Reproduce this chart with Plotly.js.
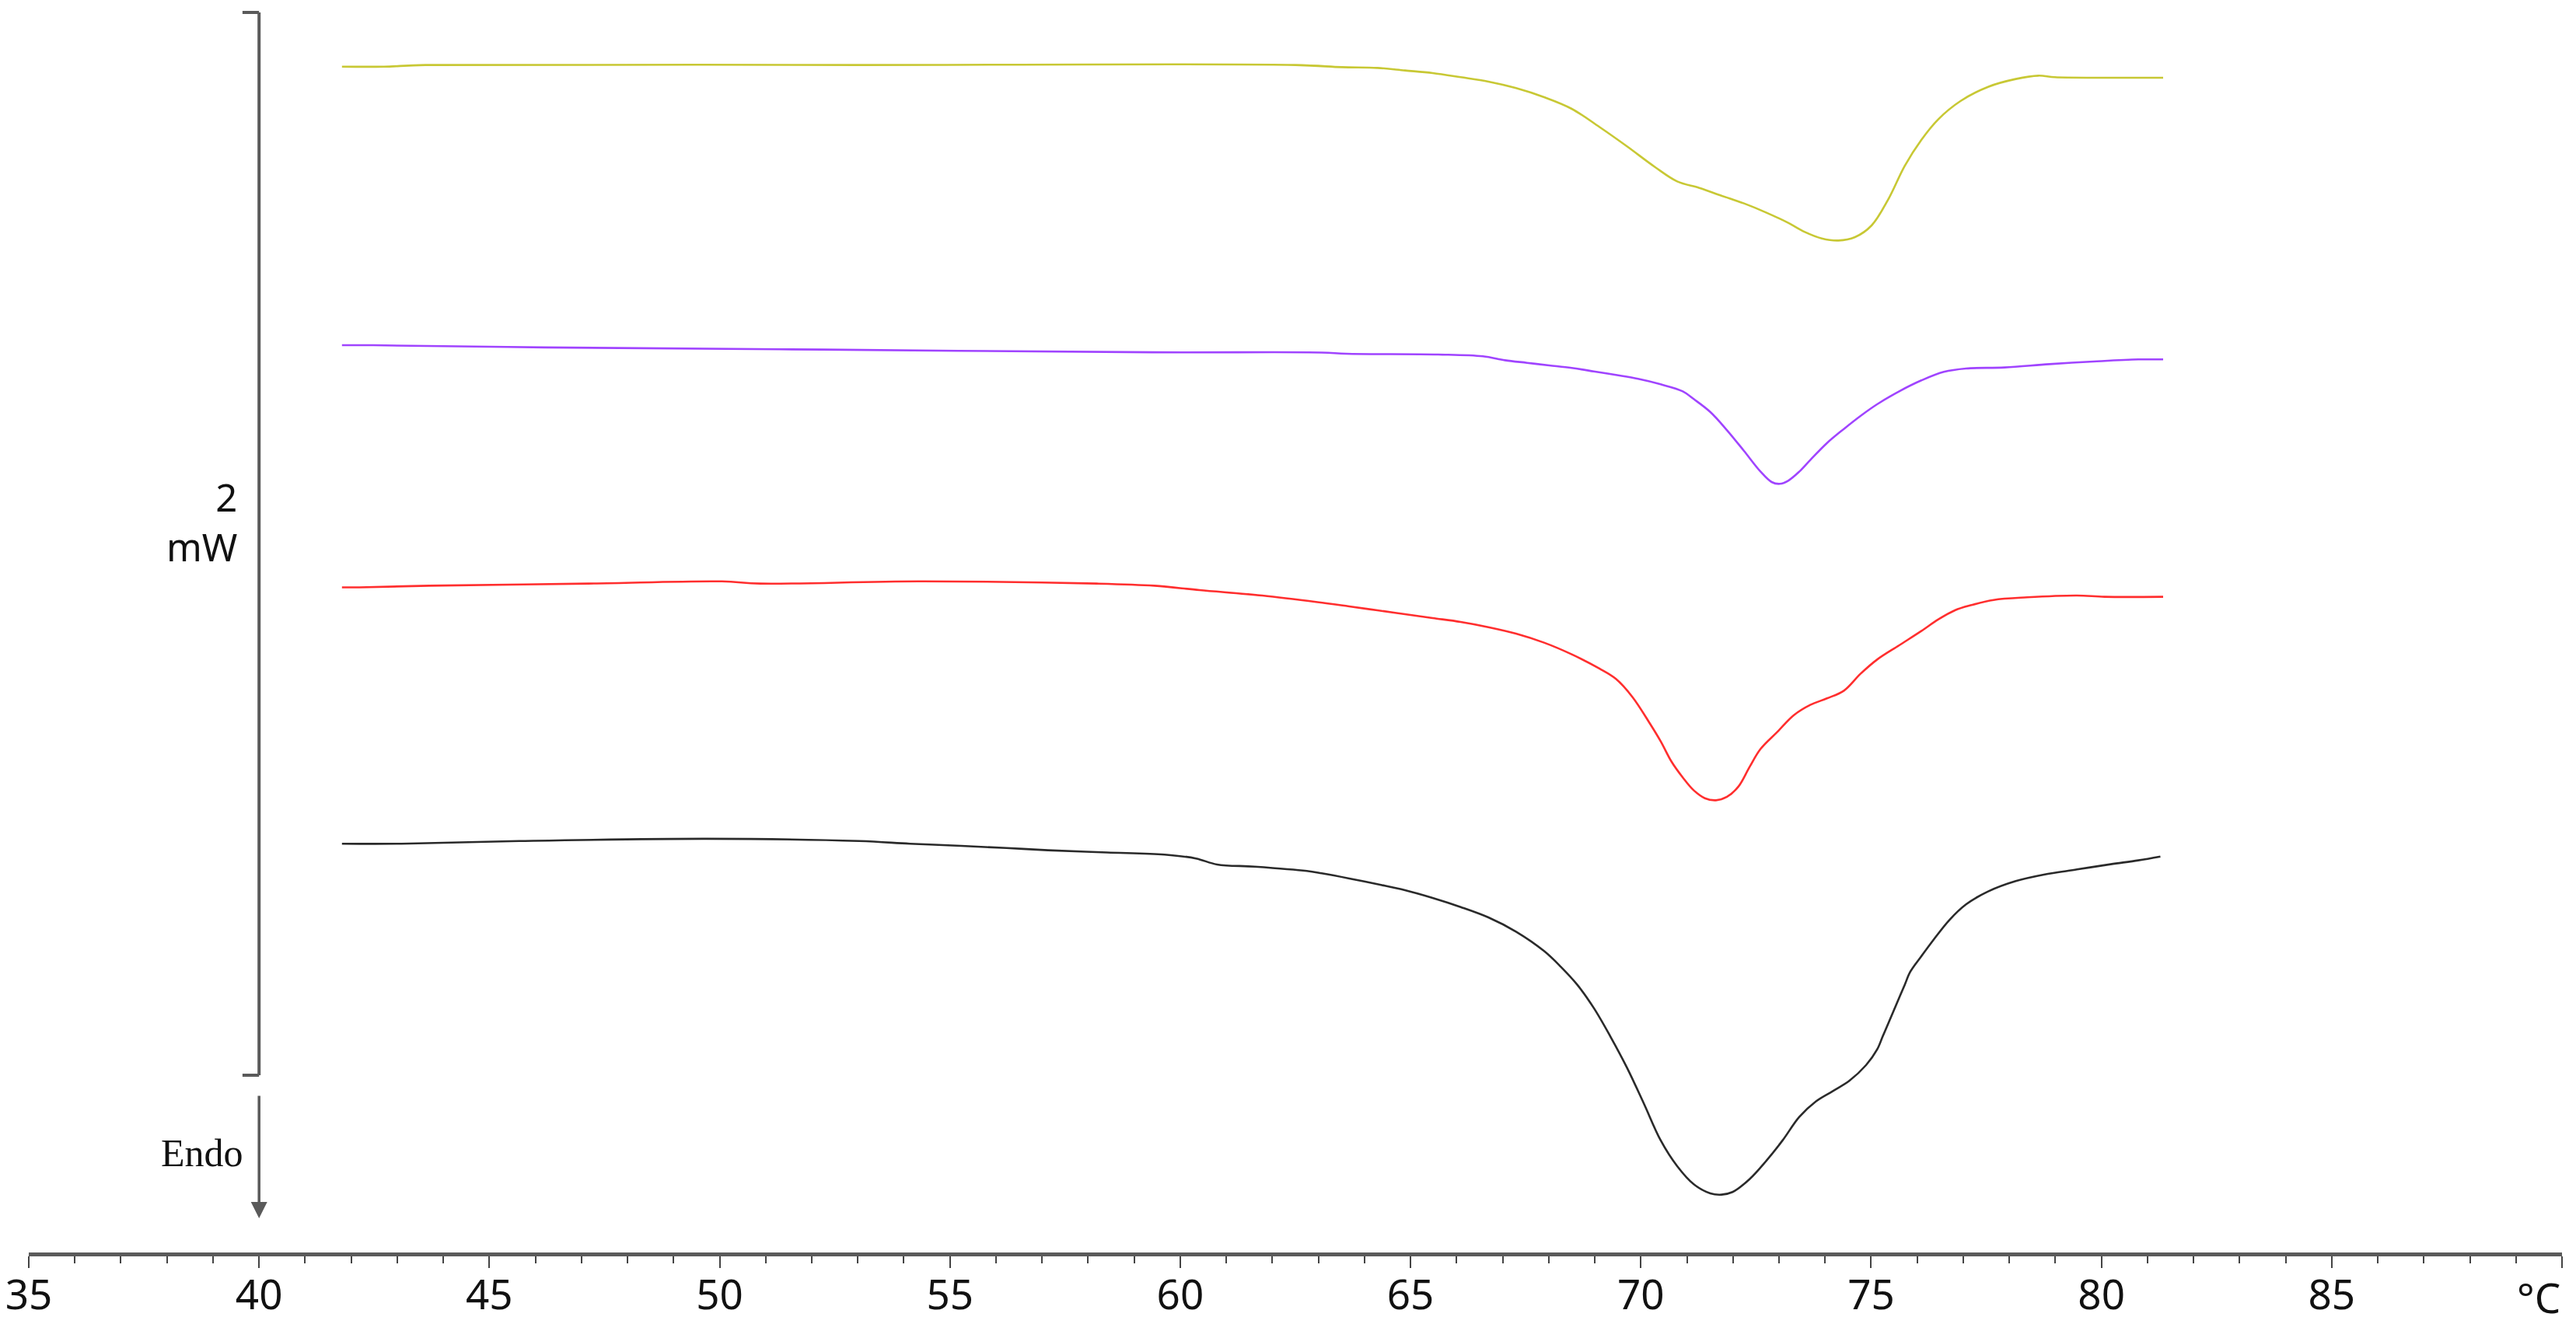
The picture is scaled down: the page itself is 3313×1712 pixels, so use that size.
<!DOCTYPE html>
<html>
<head>
<meta charset="utf-8">
<script src="https://cdn.plot.ly/plotly-3.0.1.min.js"></script>
<style>
  html, body { margin: 0; padding: 0; background: #ffffff; }
  #chart { width: 3313px; height: 1712px; }
</style>
</head>
<body>
<div id="chart"></div>
<script>
// ---- Data (temperature in °C, heat flow in mW, curves offset vertically) ----
const tempTicks = [35, 40, 45, 50, 55, 60, 65, 70, 75, 80, 85, 90];
const tempTickLabels = ["35", "40", "45", "50", "55", "60", "65", "70", "75", "80", "85", ""];
const unitLabel = "°C";
const scaleBarMW = 2;
const scaleBarLabel = "mW";
const endoLabel = "Endo";

const yellowT = [41.8, 42.71, 43.61, 53.0, 62.5, 63.51, 64.28, 64.88, 65.48, 66.09, 66.69, 67.29, 67.90, 68.50, 69.10, 69.70, 70.31, 70.79, 71.27, 71.75, 72.24, 72.72, 73.20, 73.56, 73.93, 74.29, 74.65, 75.01, 75.37, 75.73, 76.09, 76.46, 76.94, 77.54, 78.14, 78.63, 78.99, 79.95, 81.34];
const yellowMW = [1.898, 1.898, 1.901, 1.901, 1.901, 1.897, 1.8956, 1.8908, 1.8859, 1.8781, 1.8698, 1.8576, 1.8405, 1.8186, 1.7845, 1.7479, 1.7089, 1.6820, 1.6698, 1.6552, 1.6406, 1.6235, 1.6040, 1.5869, 1.5747, 1.5708, 1.5772, 1.5991, 1.6479, 1.7113, 1.7601, 1.7991, 1.8332, 1.8600, 1.8747, 1.8810, 1.8781, 1.8771, 1.8771];

const purpleT = [41.8, 42.48, 46.21, 52.24, 59.39, 63.07, 63.61, 65.60, 66.57, 67.05, 67.53, 68.01, 68.50, 68.98, 69.46, 69.94, 70.43, 70.91, 71.15, 71.51, 71.87, 72.24, 72.60, 72.84, 73.02, 73.20, 73.44, 73.68, 74.04, 74.41, 74.77, 75.13, 75.61, 76.09, 76.58, 77.06, 77.90, 78.87, 79.83, 80.80, 81.34];
const purpleMW = [1.3737, 1.3737, 1.3696, 1.3655, 1.3604, 1.3600, 1.3577, 1.3563, 1.3529, 1.3455, 1.3406, 1.3358, 1.3309, 1.3245, 1.3177, 1.3104, 1.3002, 1.2870, 1.2724, 1.2480, 1.2139, 1.1748, 1.1358, 1.1163, 1.1129, 1.1188, 1.1358, 1.1578, 1.1895, 1.2163, 1.2407, 1.2626, 1.2870, 1.3075, 1.3236, 1.3299, 1.3319, 1.3382, 1.3431, 1.3470, 1.3470];

const redT = [41.8, 42.18, 43.69, 47.15, 50.05, 50.88, 54.31, 58.19, 59.44, 60.42, 61.78, 62.98, 63.67, 64.28, 64.88, 65.48, 66.09, 66.69, 67.29, 67.90, 68.50, 69.10, 69.46, 69.82, 70.19, 70.43, 70.67, 70.91, 71.15, 71.39, 71.63, 71.87, 72.12, 72.36, 72.60, 72.96, 73.32, 73.68, 74.04, 74.41, 74.77, 75.13, 75.61, 76.09, 76.46, 76.82, 77.18, 77.66, 78.39, 79.47, 80.07, 81.34];
const redMW = [0.9181, 0.9181, 0.9211, 0.9252, 0.9293, 0.9252, 0.9293, 0.9252, 0.9211, 0.9129, 0.9026, 0.8903, 0.8822, 0.8749, 0.8676, 0.8603, 0.8530, 0.8432, 0.8310, 0.8140, 0.7920, 0.7652, 0.7457, 0.7115, 0.6628, 0.6286, 0.5896, 0.5604, 0.5360, 0.5213, 0.5174, 0.5238, 0.5433, 0.5799, 0.6140, 0.6457, 0.6774, 0.6969, 0.7091, 0.7237, 0.7554, 0.7822, 0.8091, 0.8359, 0.8578, 0.8749, 0.8847, 0.8944, 0.8993, 0.9027, 0.9003, 0.9003];

const blackT = [41.8, 43.09, 45.65, 49.72, 53.03, 54.13, 55.25, 56.23, 57.13, 58.41, 59.66, 60.34, 60.80, 61.62, 62.75, 63.07, 63.67, 64.28, 64.88, 65.48, 66.09, 66.69, 67.29, 67.90, 68.26, 68.62, 68.98, 69.34, 69.70, 70.07, 70.43, 70.79, 71.15, 71.51, 71.75, 71.99, 72.36, 72.72, 73.08, 73.44, 73.80, 74.17, 74.53, 74.89, 75.13, 75.25, 75.37, 75.61, 75.73, 75.85, 76.09, 76.34, 76.70, 77.06, 77.54, 78.14, 78.75, 79.47, 80.20, 80.80, 81.28];
const blackMW = [0.4357, 0.4357, 0.4407, 0.4449, 0.4407, 0.4357, 0.4316, 0.4275, 0.4234, 0.4192, 0.4151, 0.4079, 0.3966, 0.3925, 0.3843, 0.3799, 0.3702, 0.3594, 0.3482, 0.3336, 0.3165, 0.2970, 0.2702, 0.2336, 0.2043, 0.1702, 0.1263, 0.0727, 0.0141, -0.0541, -0.1224, -0.1712, -0.2053, -0.2224, -0.2248, -0.2199, -0.1956, -0.1614, -0.1224, -0.0785, -0.0493, -0.0297, -0.0102, 0.0190, 0.0483, 0.0727, 0.0970, 0.1458, 0.1702, 0.1946, 0.2238, 0.2531, 0.2921, 0.3214, 0.3458, 0.3653, 0.3775, 0.3872, 0.3970, 0.4043, 0.4116];

// ---- Drawing ----
function curve(x, y, color) {
  return {
    type: "scatter", mode: "lines", x: x, y: y,
    line: { color: color, width: 2.6, shape: "spline", smoothing: 1 },
    hoverinfo: "skip", showlegend: false
  };
}

const traces = [
  curve(yellowT, yellowMW, "#c8c834"),
  curve(purpleT, purpleMW, "#a044ff"),
  curve(redT, redMW, "#ff2e2e"),
  curve(blackT, blackMW, "#2a2a2a")
];

const axisColor = "#5a5a5a";
const uiFont = "'Noto Sans', 'Open Sans', 'DejaVu Sans', sans-serif";
const tickFont = { family: uiFont, size: 53, color: "#111" };

const layout = {
  width: 3313, height: 1712,
  margin: { l: 37, r: 18, t: 0, b: 101, pad: 0 },
  paper_bgcolor: "#ffffff", plot_bgcolor: "#ffffff",
  showlegend: false,
  xaxis: {
    range: [tempTicks[0], tempTicks[tempTicks.length - 1]],
    showgrid: false, zeroline: false,
    showline: true, linecolor: axisColor, linewidth: 5,
    ticks: "outside", ticklen: 15, tickwidth: 2, tickcolor: "#444",
    tickmode: "array", tickvals: tempTicks, ticktext: tempTickLabels,
    tickfont: tickFont, ticklabelstandoff: -11,
    minor: { dtick: 1, tick0: 35, ticks: "outside", ticklen: 9, tickwidth: 2, tickcolor: "#444", showgrid: false },
    fixedrange: true
  },
  yaxis: {
    visible: false, range: [-0.3336, 2.0234], fixedrange: true
  },
  shapes: [
    { type: "line", xref: "x", yref: "y", x0: 40, x1: 40, y0: 0, y1: scaleBarMW, line: { color: axisColor, width: 4 } },
    { type: "line", xref: "x", yref: "y", x0: 39.64, x1: 40, y0: scaleBarMW, y1: scaleBarMW, line: { color: axisColor, width: 4 } },
    { type: "line", xref: "x", yref: "y", x0: 39.64, x1: 40, y0: 0, y1: 0, line: { color: axisColor, width: 4 } }
  ],
  annotations: [
    { xref: "x", yref: "y", x: 39.55, y: 1.041, xanchor: "right", yanchor: "middle", align: "right", showarrow: false,
      text: String(scaleBarMW) + "<br>" + scaleBarLabel, font: { family: uiFont, size: 49, color: "#111" } },
    { xref: "x", yref: "y", x: 39.70, y: -0.1463, xanchor: "right", yanchor: "middle", showarrow: false,
      text: endoLabel, font: { family: "'Liberation Serif', 'Times New Roman', serif", size: 50, color: "#111" } },
    { xref: "x", yref: "y", x: 40, y: -0.2692, axref: "x", ayref: "y", ax: 40, ay: -0.0366,
      text: "", showarrow: true, arrowhead: 2, arrowsize: 1.2, arrowwidth: 3.5, arrowcolor: axisColor },
    { xref: "x", yref: "paper", x: 90, y: -0.036, xanchor: "right", yanchor: "middle", showarrow: false,
      text: unitLabel, font: tickFont }
  ]
};

Plotly.newPlot("chart", traces, layout, { displayModeBar: false, staticPlot: true });
</script>
</body>
</html>
